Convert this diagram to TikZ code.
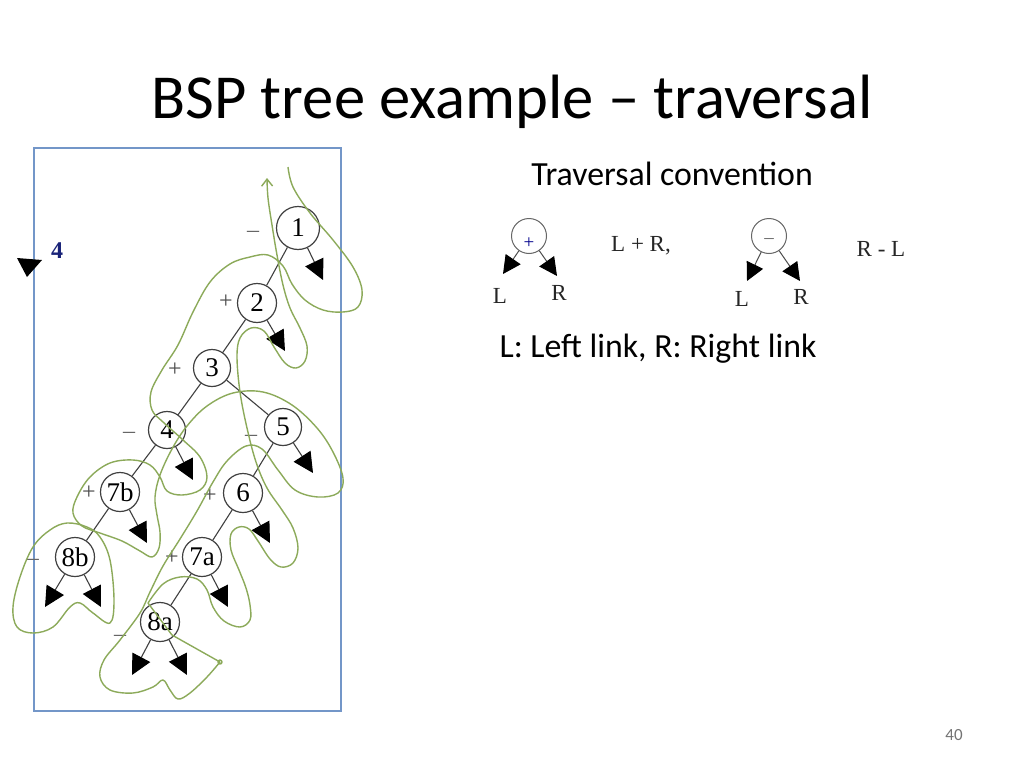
\documentclass[tikz,border=0pt]{standalone}
\usepackage{fontspec}
\setmainfont{Carlito}
\newfontfamily\tms{Liberation Serif}
\usetikzlibrary{arrows.meta}
\definecolor{trailgreen}{RGB}{140,170,90}
\definecolor{framblue}{RGB}{115,150,200}
\definecolor{viewnavy}{RGB}{25,35,120}

\begin{document}
\begin{tikzpicture}[x=1pt,y=-1pt]
\tikzstyle{bspnode}=[circle, draw=black!75, line width=1.2pt, minimum size=39pt, inner sep=0pt, font=\tms\fontsize{27}{27}\selectfont]
\tikzstyle{sign}=[font=\tms\fontsize{24}{24}\selectfont, text=black!60]
\tikzstyle{link}=[draw=black!75, line width=1.1pt]
\tikzstyle{nullink}=[link, -{Triangle[length=20pt,width=20pt,color=black]}]
\tikzstyle{trail}=[draw=trailgreen, line width=1.4pt, line join=round]
\tikzstyle{cnode}=[circle, draw=black!60, line width=1pt, minimum size=35pt, inner sep=0pt]
\tikzstyle{cnull}=[draw=black!70, line width=1pt, -{Triangle[length=18pt,width=18pt,color=black]}]
\tikzstyle{clabel}=[font=\tms\fontsize{23}{23}\selectfont, text=black!85]
\fill[white] (0,0) rectangle (1024,768);
\useasboundingbox (0,0) rectangle (1024,768);

\node[font=\fontsize{62.6}{70}\selectfont, anchor=base] (title) at (512,118) {BSP tree example – traversal};
\node[font=\fontsize{33.8}{40}\selectfont, anchor=base] (conv) at (672,185) {Traversal convention};
\node[font=\fontsize{33.8}{40}\selectfont, anchor=base] (legend) at (658,357) {L: Left link, R: Right link};
\node[font=\fontsize{17}{20}\selectfont, text=black!55] (page) at (954,735) {40};

\draw[framblue, line width=1.3pt] (34,148) rectangle (341,711);
\fill[black] (17,258) -- (42,260) -- (27,277) -- cycle;
\node[font=\tms\bfseries\fontsize{24}{24}\selectfont, text=viewnavy] (view) at (57,251) {4};

\node[bspnode, minimum size=43pt] (n1) at (298,228) {1};
\node[bspnode] (n2) at (257,303) {2};
\node[bspnode, minimum size=37pt] (n3) at (212,368) {3};
\node[bspnode, minimum size=37pt] (n4) at (167,430) {4};
\node[bspnode, minimum size=37pt] (n5) at (283,427) {5};
\node[bspnode] (n7b) at (120,492) {7b};
\node[bspnode] (n6) at (243,493) {6};
\node[bspnode] (n8b) at (75,557) {8b};
\node[bspnode] (n7a) at (202,557) {7a};
\node[bspnode] (n8a) at (160,622) {8a};

\node[sign] (s1) at (253,234) {–};
\node[sign, text=black!70] (s2) at (226,302) {+};
\node[sign, text=black!70] (s3) at (175,370) {+};
\node[sign] (s4) at (129,435) {–};
\node[sign] (s5) at (251,438) {–};
\node[sign, text=black!70] (s7b) at (89,493) {+};
\node[sign, text=black!70] (s6) at (210,496) {+};
\node[sign] (s8b) at (33,562) {–};
\node[sign, text=black!70] (s7a) at (172,558) {+};
\node[sign] (s8a) at (120,638) {–};

\coordinate (r1) at (323,280);
\coordinate (r2) at (285,351);
\coordinate (r4) at (193,480);
\coordinate (r5) at (313,473);
\coordinate (r7b) at (147,543);
\coordinate (r6) at (270,543);
\coordinate (r7a) at (228,607);
\coordinate (l8b) at (45,607);
\coordinate (r8b) at (101,607);
\coordinate (l8a) at (132,675);
\coordinate (r8a) at (187,675);

\draw[link] (n1) -- (n2);
\draw[link] (n2) -- (n3);
\draw[link] (n3) -- (n4);
\draw[link] (n3) -- (n5);
\draw[link] (n4) -- (n7b);
\draw[link] (n5) -- (n6);
\draw[link] (n7b) -- (n8b);
\draw[link] (n6) -- (n7a);
\draw[link] (n7a) -- (n8a);
\draw[nullink] (n1) -- (r1);
\draw[nullink] (n2) -- (r2);
\draw[nullink] (n4) -- (r4);
\draw[nullink] (n5) -- (r5);
\draw[nullink] (n7b) -- (r7b);
\draw[nullink] (n6) -- (r6);
\draw[nullink] (n7a) -- (r7a);
\draw[nullink] (n8b) -- (l8b);
\draw[nullink] (n8b) -- (r8b);
\draw[nullink] (n8a) -- (l8a);
\draw[nullink] (n8a) -- (r8a);

\draw[trail] plot[smooth, tension=0.6] coordinates {(288,167) (293,187) (310,213) (333,240) (353,267) (362,290) (358,307) (343,312) (323,310) (305,300) (292,284) (283,266) (268,255) (250,257) (230,264) (210,282) (193,312) (178,345) (162,370) (151,392) (152,410) (163,422) (183,440) (200,457) (207,477) (200,490) (182,495) (167,491) (160,477) (150,465) (133,460) (110,463) (90,477) (77,497) (73,513) (82,526) (100,533) (122,541) (140,551) (152,557) (159,548) (160,532) (157,515) (155,497) (160,475) (172,449) (187,426) (207,406) (233,393) (263,392) (292,405) (317,428) (333,452) (343,478) (338,493) (318,497) (295,490) (278,470) (262,449) (246,446) (227,461) (213,482) (197,511) (180,539) (163,566) (150,592) (140,613) (120,640) (104,660) (100,677) (110,690) (133,693) (153,687) (163,680) (170,690) (178,699) (190,693) (207,677) (220,662)};
\draw[trail] (220,662) -- (172,635) -- (148,603);
\draw[trail, -{Straight Barb[length=7pt,width=11pt]}] plot[smooth, tension=0.6] coordinates {(148,603) (163,584) (180,577) (197,579) (207,590) (213,607) (224,621) (240,627) (250,620) (250,605) (246,588) (239,570) (231,550) (231,534) (239,527) (249,529) (258,541) (270,559) (281,567) (293,563) (298,548) (293,528) (282,510) (267,488) (256,462) (247,428) (240,392) (237,357) (240,338) (251,328) (264,331) (274,347) (285,363) (296,368) (305,361) (307,346) (300,328) (290,308) (283,285) (277,255) (272,225) (268,198) (267,178)};
\draw[trail] plot[smooth cycle, tension=0.6] coordinates {(67,523) (50,530) (33,547) (20,577) (13,607) (17,627) (33,633) (53,627) (70,607) (80,603) (93,613) (110,623) (114,600) (110,560) (100,537) (87,527)};
\draw[trail] (220,662) circle (2pt);

\node[cnode] (cp) at (529,236) {};
\node[font=\tms\fontsize{19}{19}\selectfont, text=blue!55!black] (cpsign) at (529,243) {+};
\coordinate (cpl) at (503,274);
\coordinate (cpr) at (557,276);
\draw[cnull] (cp) -- (cpl);
\draw[cnull] (cp) -- (cpr);
\node[clabel] (cpL) at (500,296) {L};
\node[clabel] (cpR) at (559,293) {R};
\node[clabel] (lpr) at (641,246) {L + R,};

\node[cnode] (cm) at (769,236) {};
\node[font=\tms\fontsize{19}{19}\selectfont, text=black!60] (cmsign) at (769,241) {–};
\coordinate (cml) at (747,281);
\coordinate (cmr) at (800,281);
\draw[cnull] (cm) -- (cml);
\draw[cnull] (cm) -- (cmr);
\node[clabel] (cmL) at (742,299) {L};
\node[clabel] (cmR) at (801,297) {R};
\node[clabel] (rml) at (881,249) {R - L};
\end{tikzpicture}
\end{document}
